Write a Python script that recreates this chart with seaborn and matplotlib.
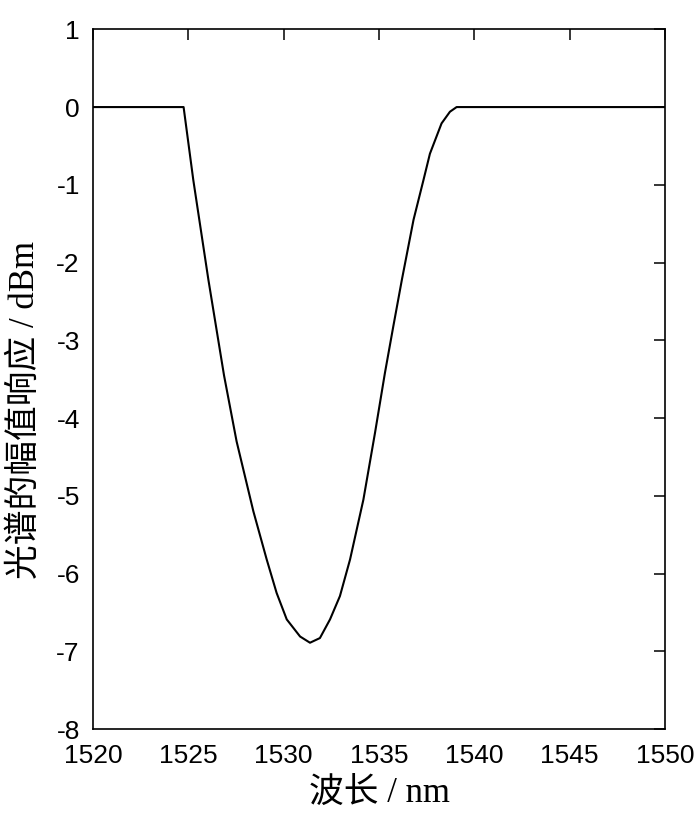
import numpy as np
import pandas as pd
import matplotlib
matplotlib.use("Agg")
import matplotlib.pyplot as plt
import seaborn as sns

wavelength = [1520.0, 1524.75, 1525.26, 1526.05, 1526.87, 1527.53, 1528.41, 1529.11,
              1529.63, 1530.16, 1530.86, 1531.38, 1531.90, 1532.43, 1532.95, 1533.48,
              1534.18, 1534.79, 1535.31, 1535.75, 1536.20, 1536.81, 1537.33, 1537.67,
              1538.28, 1538.72, 1539.07, 1550.0]
response = [0.0, 0.0, -0.94, -2.22, -3.45, -4.30, -5.20, -5.82,
            -6.25, -6.59, -6.81, -6.89, -6.83, -6.59, -6.29, -5.82,
            -5.05, -4.19, -3.42, -2.82, -2.22, -1.45, -0.94, -0.60,
            -0.21, -0.06, 0.0, 0.0]
xticks = [1520, 1525, 1530, 1535, 1540, 1545, 1550]
yticks = [1, 0, -1, -2, -3, -4, -5, -6, -7, -8]
xlabel = "波长 / nm"
ylabel = "光谱的幅值响应 / dBm"

sns.set_theme(style="white")
plt.rcParams['font.family'] = ['Liberation Sans', 'Noto Sans CJK SC', 'DejaVu Sans']

df = pd.DataFrame({"wl": wavelength, "resp": response})

fig = plt.figure(figsize=(7, 8.26), dpi=100)
ax = fig.add_axes([0.1329, 0.1174, 0.8171, 0.8471])
sns.lineplot(data=df, x="wl", y="resp", ax=ax, color="black", linewidth=1.5)

ax.set_xlim(1520, 1550)
ax.set_ylim(-8, 1)
ax.set_xticks(xticks)
ax.set_yticks(yticks)
ax.set_xticklabels([str(t) for t in xticks])
ax.set_yticklabels([str(t) for t in yticks])
ax.tick_params(direction="in", length=8, width=1.1, top=True, right=True,
               labelsize=19, colors="black", pad=9.5)
ax.tick_params(axis="x", pad=10.5)
for s in ax.spines.values():
    s.set_visible(True)
    s.set_color("black")
    s.set_linewidth(1.2)

lab_font = ['Liberation Serif', 'Noto Sans CJK SC']
ax.set_xlabel(xlabel, fontsize=25, family=lab_font, color="black")
ax.set_ylabel(ylabel, fontsize=25, family=lab_font, color="black")
ax.xaxis.label.set_va("center")
ax.yaxis.label.set_va("center")
ax.yaxis.label.set_ha("center")
ax.xaxis.set_label_coords(0.5, -0.0914)
ax.yaxis.set_label_coords(-0.119, 0.456)

fig.savefig("out.png", dpi=100, facecolor="white")
